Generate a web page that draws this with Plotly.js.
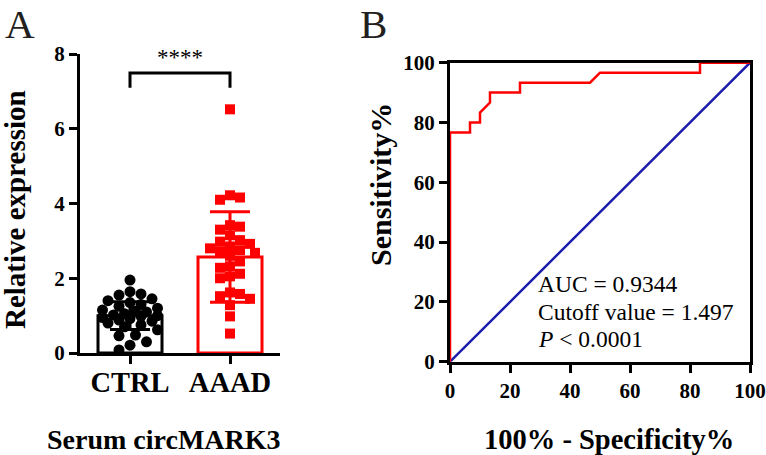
<!DOCTYPE html>
<html>
<head>
<meta charset="utf-8">
<script src="https://cdn.plot.ly/plotly-3.0.1.min.js"></script>
<style>html,body{margin:0;padding:0;background:#fff;}#chart{width:766px;height:455px;}</style>
</head>
<body>
<div id="chart"></div>
<script>
// ---------- Panel A data ----------
var groups = ["CTRL", "AAAD"];
var ctrlValues = [1.95, 1.64, 1.58, 1.55, 1.45, 1.40, 1.35, 1.30, 1.25, 1.20, 1.15, 1.12, 1.10, 1.05, 1.02,
                  1.00, 0.98, 0.95, 0.92, 0.88, 0.85, 0.80, 0.75, 0.70, 0.62, 0.48, 0.46, 0.30, 0.21, 0.08];
var aaadValues = [6.52, 4.22, 4.16, 4.10, 3.42, 3.38, 3.30, 3.15, 3.02, 2.98, 2.92, 2.85, 2.80, 2.75, 2.72,
                  2.68, 2.60, 2.45, 2.32, 2.28, 2.12, 2.05, 2.00, 1.62, 1.58, 1.52, 1.45, 1.28, 0.98, 0.52];
var groupMeans = [1.00, 2.57];
var groupSD = [0.37, 1.21];
var sigLabel = "****";
var yTicksA = [0, 2, 4, 6, 8];

// ---------- Panel B data ----------
var rocFPR = [0, 0, 6.67, 6.67, 10, 10, 13.33, 13.33, 23.33, 23.33, 46.67, 50, 83.33, 83.33, 100];
var rocTPR = [0, 76.67, 76.67, 80, 80, 83.33, 86.67, 90, 90, 93.33, 93.33, 96.67, 96.67, 100, 100];
var refX = [0, 100];
var refY = [0, 100];
var ticksB = [0, 20, 40, 60, 80, 100];
var statLines = ["AUC = 0.9344", "Cutoff value = 1.497", "<i>P</i> &lt; 0.0001"];

// ---------- layout geometry (pixels) ----------
var W = 766, H = 455;
var A_x0 = 80, A_x1 = 280, A_yTop = 54, A_yBot = 353;
var B_x0 = 450, B_x1 = 750, B_yTop = 62.7, B_yBot = 361.7;

// beeswarm-style horizontal spread (layout only)
function swarm(vals, center, diam) {
  var pxX = (A_x1 - A_x0) / 2, pxY = (A_yBot - A_yTop) / 8;
  var order = vals.map(function (v, i) { return i; }).sort(function (a, b) { return vals[b] - vals[a]; });
  var placed = [], xs = new Array(vals.length);
  var step = diam * 0.5, maxOff = 29, minD = diam * 0.95;
  order.forEach(function (i) {
    var py = vals[i] * pxY, best = null, bestScore = -1;
    var cands = [0];
    for (var k = 1; k * step <= maxOff; k++) { cands.push(k * step); cands.push(-k * step); }
    for (var c = 0; c < cands.length; c++) {
      var md = Infinity;
      placed.forEach(function (p) { var d = Math.hypot(p[0] - cands[c], p[1] - py); if (d < md) md = d; });
      if (md >= minD) { best = cands[c]; break; }
      if (md > bestScore) { bestScore = md; best = cands[c]; }
    }
    placed.push([best, py]);
    xs[i] = center + best / pxX;
  });
  return xs;
}

var serif = "Liberation Serif, Times New Roman, serif";
var traces = [
  { type: "bar", x: [0], y: [groupMeans[0]], width: 0.64, xaxis: "x", yaxis: "y",
    marker: { color: "rgba(255,255,255,0)", line: { color: "#000", width: 3 } },
    error_y: { type: "data", array: [groupSD[0]], color: "#000", thickness: 3, width: 20 },
    hoverinfo: "skip", showlegend: false },
  { type: "bar", x: [1], y: [groupMeans[1]], width: 0.64, xaxis: "x", yaxis: "y",
    marker: { color: "rgba(255,255,255,0)", line: { color: "#ff0000", width: 3 } },
    error_y: { type: "data", array: [groupSD[1]], color: "#ff0000", thickness: 3, width: 20 },
    hoverinfo: "skip", showlegend: false },
  { type: "scatter", mode: "markers", x: swarm(ctrlValues, 0, 11), y: ctrlValues, xaxis: "x", yaxis: "y",
    marker: { symbol: "circle", size: 11, color: "#000" }, showlegend: false, cliponaxis: false },
  { type: "scatter", mode: "markers", x: swarm(aaadValues, 1, 10), y: aaadValues, xaxis: "x", yaxis: "y",
    marker: { symbol: "square", size: 10, color: "#ff0000" }, showlegend: false, cliponaxis: false },
  { type: "scatter", mode: "lines", x: refX, y: refY, xaxis: "x2", yaxis: "y2",
    line: { color: "#1c1cad", width: 2.5 }, showlegend: false, cliponaxis: false },
  { type: "scatter", mode: "lines", x: rocFPR, y: rocTPR, xaxis: "x2", yaxis: "y2",
    line: { color: "#ff0000", width: 2.5 }, showlegend: false, cliponaxis: false }
];

var tickFont = { family: serif, size: 21, color: "#000", weight: "bold" };
var axisCommon = { showline: true, linecolor: "#000", linewidth: 3, ticks: "outside", ticklen: 8,
  tickwidth: 3, tickcolor: "#000", showgrid: false, zeroline: false, fixedrange: true };

function label(x, y, text, size, opts) {
  return Object.assign({ xref: "paper", yref: "paper", x: x / W, y: 1 - y / H, text: text, showarrow: false,
    xanchor: "center", yanchor: "middle", font: { family: serif, size: size, color: "#000", weight: "bold" } }, opts || {});
}

var layout = {
  width: W, height: H, margin: { l: 0, r: 0, t: 0, b: 0 },
  paper_bgcolor: "#fff", plot_bgcolor: "rgba(0,0,0,0)", barmode: "overlay", showlegend: false,
  xaxis: Object.assign({}, axisCommon, { domain: [A_x0 / W, A_x1 / W], range: [-0.5, 1.5], anchor: "y",
    tickvals: [0, 1], ticktext: groups, ticklabelstandoff: -6,
    tickfont: { family: serif, size: 28.5, color: "#000", weight: "bold" } }),
  yaxis: Object.assign({}, axisCommon, { domain: [1 - A_yBot / H, 1 - A_yTop / H], range: [0, 8], anchor: "x",
    tickvals: yTicksA, tickfont: tickFont }),
  xaxis2: Object.assign({}, axisCommon, { domain: [B_x0 / W, B_x1 / W], range: [0, 100], anchor: "y2",
    tickvals: ticksB, tickfont: tickFont, mirror: true, layer: "below traces" }),
  yaxis2: Object.assign({}, axisCommon, { domain: [1 - B_yBot / H, 1 - B_yTop / H], range: [0, 100], anchor: "x2",
    tickvals: ticksB, tickfont: tickFont, mirror: true, layer: "below traces" }),
  shapes: [
    { type: "path", xref: "x", yref: "y", path: "M 0 7.1 L 0 7.49 L 1 7.49 L 1 7.1",
      line: { color: "#000", width: 3 } }
  ],
  annotations: [
    { xref: "x", yref: "y", x: 0.5, y: 7.9, text: sigLabel, showarrow: false, xanchor: "center", yanchor: "middle",
      font: { family: serif, size: 23, color: "#000" } },
    label(15, 210, "Relative expression", 29, { textangle: -90 }),
    label(164, 439, "Serum circMARK3", 28),
    label(380, 185, "Sensitivity%", 30, { textangle: -90 }),
    label(609, 439, "100% - Specificity%", 28.5),
    label(19.5, 0, "A", 41, { yanchor: "top", borderpad: 0, font: { family: serif, size: 41, color: "#231f20" } }),
    label(373.5, 0, "B", 41, { yanchor: "top", borderpad: 0, font: { family: serif, size: 41, color: "#231f20" } }),
    { xref: "x2", yref: "y2", x: 28.7, y: 26.1, xanchor: "left", yanchor: "middle", text: statLines[0], showarrow: false,
      font: { family: serif, size: 23.5, color: "#000" } },
    { xref: "x2", yref: "y2", x: 28.7, y: 16.6, xanchor: "left", yanchor: "middle", text: statLines[1], showarrow: false,
      font: { family: serif, size: 23.5, color: "#000" } },
    { xref: "x2", yref: "y2", x: 28.7, y: 7.6, xanchor: "left", yanchor: "middle", text: statLines[2], showarrow: false,
      font: { family: serif, size: 23.5, color: "#000" } }
  ]
};

Plotly.newPlot("chart", traces, layout, { displayModeBar: false, staticPlot: true });
</script>
</body>
</html>
